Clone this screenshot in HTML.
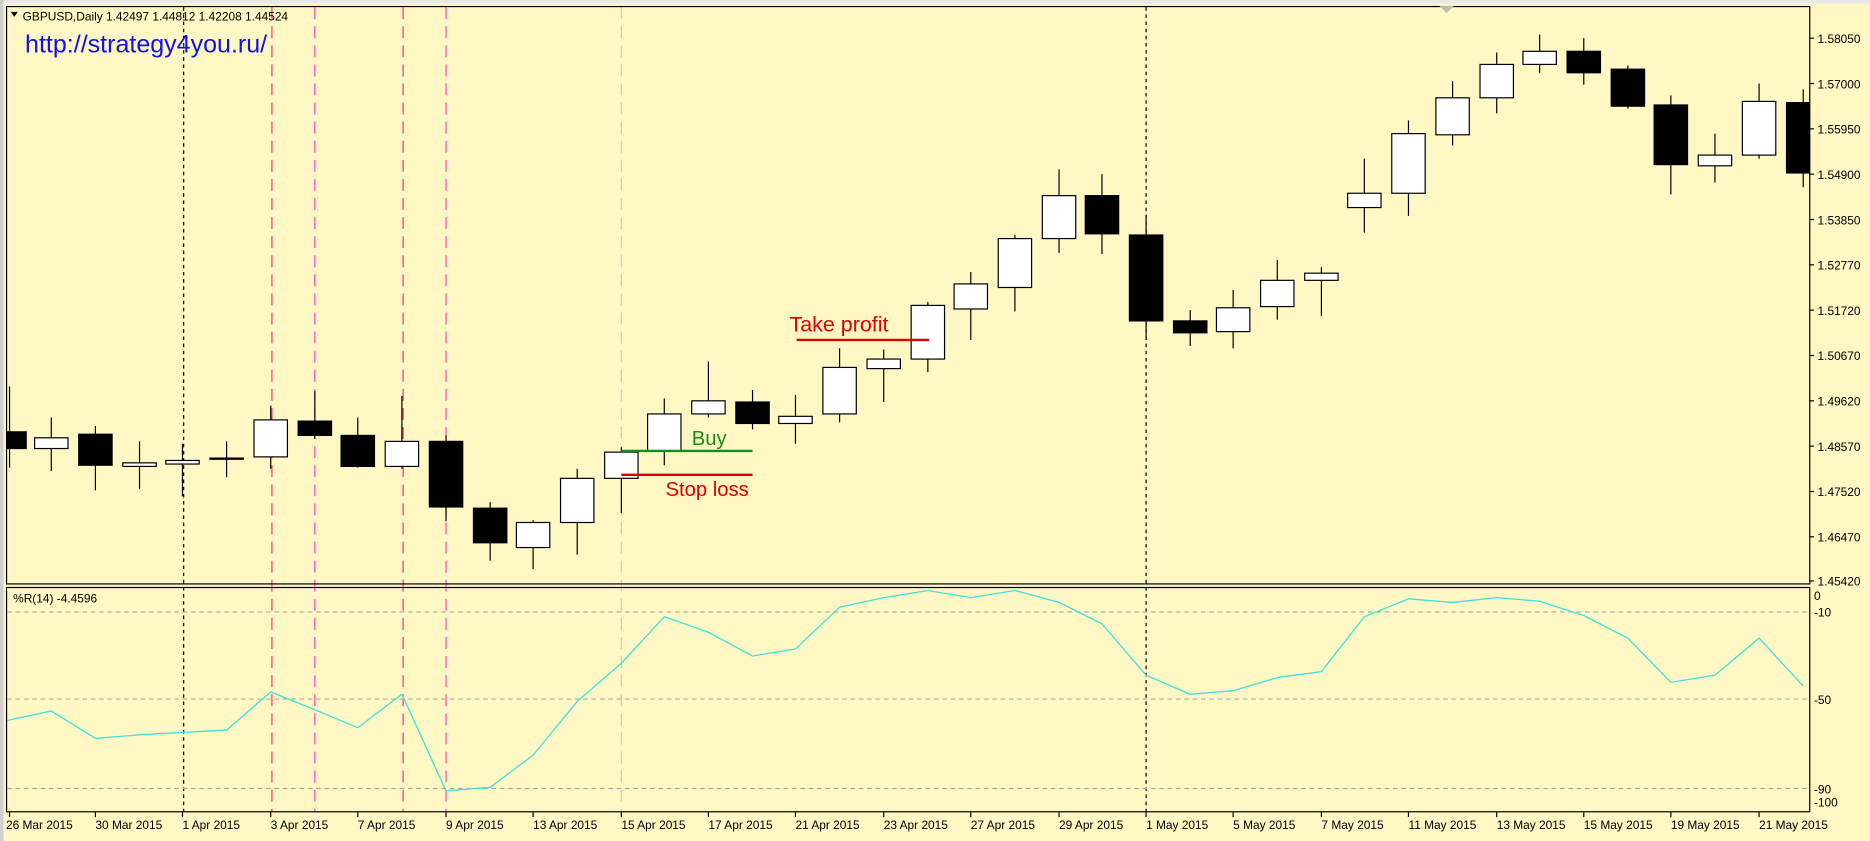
<!DOCTYPE html>
<html><head><meta charset="utf-8"><style>
html,body{margin:0;padding:0;background:#fff;}
svg{display:block;}
text{font-family:"Liberation Sans","DejaVu Sans",sans-serif;}
</style></head><body>
<svg id="s" width="1870" height="841" viewBox="0 0 1568 705" preserveAspectRatio="none" xmlns="http://www.w3.org/2000/svg">
<rect x="0" y="0" width="1568" height="705" fill="#fff8c4"/>
<rect x="0" y="0" width="1568" height="3" fill="#e8e8e8"/>
<rect x="0" y="0" width="3" height="705" fill="#d0d0d0"/>
<g id="vl"></g>
<g id="cd"></g>
<rect x="5.5" y="5.5" width="1512" height="484" fill="none" stroke="#000" stroke-width="1"/>
<rect x="5.5" y="492.5" width="1512" height="188" fill="none" stroke="#000" stroke-width="1"/>
<g stroke="#aaa" stroke-dasharray="4,3" stroke-width="1">
<line x1="6" y1="513" x2="1517" y2="513"/>
<line x1="6" y1="586" x2="1517" y2="586"/>
<line x1="6" y1="661" x2="1517" y2="661"/>
</g>
<polyline id="wr" fill="none" stroke="#40e0e0" stroke-width="1.1" points="6,604 43,596 80,619 117,616 153,614 190,612 227,580 264,595 300,610 337,582 374,663 411,660 447,633 484,588 521,556 557,517 594,530 631,550 667,544 704,509 741,501 778,495 814,501 851,495 888,505 924,523 961,566 998,582 1034,579 1071,568 1108,563 1144,517 1181,502 1218,505 1255,501 1291,504 1328,516 1365,535 1401,572 1438,566 1475,535 1512,575"/>
<line x1="668" y1="285" x2="779" y2="285" stroke="#e00000" stroke-width="2"/>
<text x="662" y="278" font-size="18" fill="#e00000">Take profit</text>
<line x1="521" y1="378" x2="631" y2="378" stroke="#1a8a1a" stroke-width="2"/>
<text x="580" y="373" font-size="17" fill="#1a8a1a">Buy</text>
<line x1="521" y1="398" x2="631" y2="398" stroke="#e00000" stroke-width="2"/>
<text x="558" y="416" font-size="17" fill="#e00000">Stop loss</text>
<path d="M9,10 L15,10 L12,14 Z" fill="#000"/>
<text x="19" y="17" font-size="10" fill="#000">GBPUSD,Daily  1.42497 1.44812 1.42208 1.44524</text>
<text x="21" y="44" font-size="21" fill="#1010f0">http://strategy4you.ru/</text>
<text x="11" y="505" font-size="10" fill="#000">%R(14) -4.4596</text>
<path d="M1207,5 L1219,5 L1213,11 Z" fill="#bbb"/>
<g font-size="10" fill="#000">
<g stroke="#000"><line x1="1517" y1="32" x2="1521" y2="32"/><line x1="1517" y1="70" x2="1521" y2="70"/><line x1="1517" y1="108" x2="1521" y2="108"/><line x1="1517" y1="146" x2="1521" y2="146"/><line x1="1517" y1="184" x2="1521" y2="184"/><line x1="1517" y1="222" x2="1521" y2="222"/><line x1="1517" y1="260" x2="1521" y2="260"/><line x1="1517" y1="298" x2="1521" y2="298"/><line x1="1517" y1="336" x2="1521" y2="336"/><line x1="1517" y1="374" x2="1521" y2="374"/><line x1="1517" y1="412" x2="1521" y2="412"/><line x1="1517" y1="450" x2="1521" y2="450"/><line x1="1517" y1="487" x2="1521" y2="487"/></g>
<text x="1524" y="36">1.58050</text>
<text x="1524" y="74">1.57000</text>
<text x="1524" y="112">1.55950</text>
<text x="1524" y="150">1.54900</text>
<text x="1524" y="188">1.53850</text>
<text x="1524" y="226">1.52770</text>
<text x="1524" y="264">1.51720</text>
<text x="1524" y="302">1.50670</text>
<text x="1524" y="340">1.49620</text>
<text x="1524" y="378">1.48570</text>
<text x="1524" y="416">1.47520</text>
<text x="1524" y="454">1.46470</text>
<text x="1524" y="491">1.45420</text>
<text x="1521" y="503">0</text>
<text x="1521" y="517">-10</text>
<text x="1521" y="590">-50</text>
<text x="1521" y="665">-90</text>
<text x="1521" y="676">-100</text>
</g>
<g font-size="10" fill="#000" id="dates">
<text x="5" y="695">26 Mar 2015</text>
<text x="80" y="695">30 Mar 2015</text>
<text x="153" y="695">1 Apr 2015</text>
<text x="227" y="695">3 Apr 2015</text>
<text x="300" y="695">7 Apr 2015</text>
<text x="374" y="695">9 Apr 2015</text>
<text x="447" y="695">13 Apr 2015</text>
<text x="521" y="695">15 Apr 2015</text>
<text x="594" y="695">17 Apr 2015</text>
<text x="667" y="695">21 Apr 2015</text>
<text x="741" y="695">23 Apr 2015</text>
<text x="814" y="695">27 Apr 2015</text>
<text x="888" y="695">29 Apr 2015</text>
<text x="961" y="695">1 May 2015</text>
<text x="1034" y="695">5 May 2015</text>
<text x="1108" y="695">7 May 2015</text>
<text x="1181" y="695">11 May 2015</text>
<text x="1255" y="695">13 May 2015</text>
<text x="1328" y="695">15 May 2015</text>
<text x="1401" y="695">19 May 2015</text>
<text x="1475" y="695">21 May 2015</text>
</g>
</svg>
<script>
var NS="http://www.w3.org/2000/svg";
function el(p,t,a){var e=document.createElementNS(NS,t);for(var k in a)e.setAttribute(k,a[k]);p.appendChild(e);return e;}
var vl=document.getElementById('vl');
[[154,'#000','3,3'],[961,'#000','3,3'],[228,'#ff3070','10,6'],[338,'#ff3070','10,6'],[264,'#ff40c0','10,6'],[374,'#ff40c0','10,6'],[521,'#ffb0c0','10,6']].forEach(function(v){
el(vl,'line',{x1:v[0],y1:6,x2:v[0],y2:680,stroke:v[1],'stroke-dasharray':v[2],'stroke-width':1});});
var c=[[8,362,376,324,392,1],[43,367,376,350,395,0],[80,364,390,357,411,1],[117,388,391,370,410,0],[153,386,389,372,416,0],[190,384,385,370,400,0],[227,352,383,340,393,0],[264,353,365,328,368,1],[300,365,391,350,392,1],[337,370,391,332,393,0],[374,370,425,365,437,1],[411,426,455,421,470,1],[447,438,459,436,477,0],[484,401,438,393,465,0],[521,379,401,375,430,0],[557,347,378,334,390,0],[594,336,347,303,350,0],[631,337,355,327,360,1],[667,349,355,331,372,0],[704,308,347,292,354,0],[741,301,309,293,337,0],[778,256,301,253,312,0],[814,238,259,228,285,0],[851,200,241,197,261,0],[888,164,200,142,212,0],[924,164,196,146,213,1],[961,197,269,180,285,1],[998,269,279,260,290,1],[1034,258,278,243,292,0],[1071,235,257,218,268,0],[1108,229,235,224,265,0],[1144,162,174,133,195,0],[1181,112,162,101,181,0],[1218,82,113,68,122,0],[1255,54,82,44,95,0],[1291,43,54,29,61,0],[1328,43,61,32,71,1],[1365,58,89,55,91,1],[1401,88,138,80,163,1],[1438,130,139,112,153,0],[1475,85,130,70,133,0],[1512,86,145,75,157,1]];
var g=document.getElementById('cd');
c.forEach(function(d){
var x=d[0],w=14,l=Math.max(x-w,6),r=Math.min(x+w,1517);
el(g,'line',{x1:x,y1:d[3],x2:x,y2:d[4],stroke:'#000','stroke-width':1});
el(g,'rect',{x:l,y:d[1],width:r-l,height:Math.max(d[2]-d[1],1),fill:d[5]?'#000':'#fff',stroke:'#000','stroke-width':1});
});
var dg=document.getElementById('dates');
for(var i=0;i<42;i+=2){el(dg,'line',{x1:c[i][0],y1:681,x2:c[i][0],y2:685,stroke:'#000'});}
</script>
</body></html>
